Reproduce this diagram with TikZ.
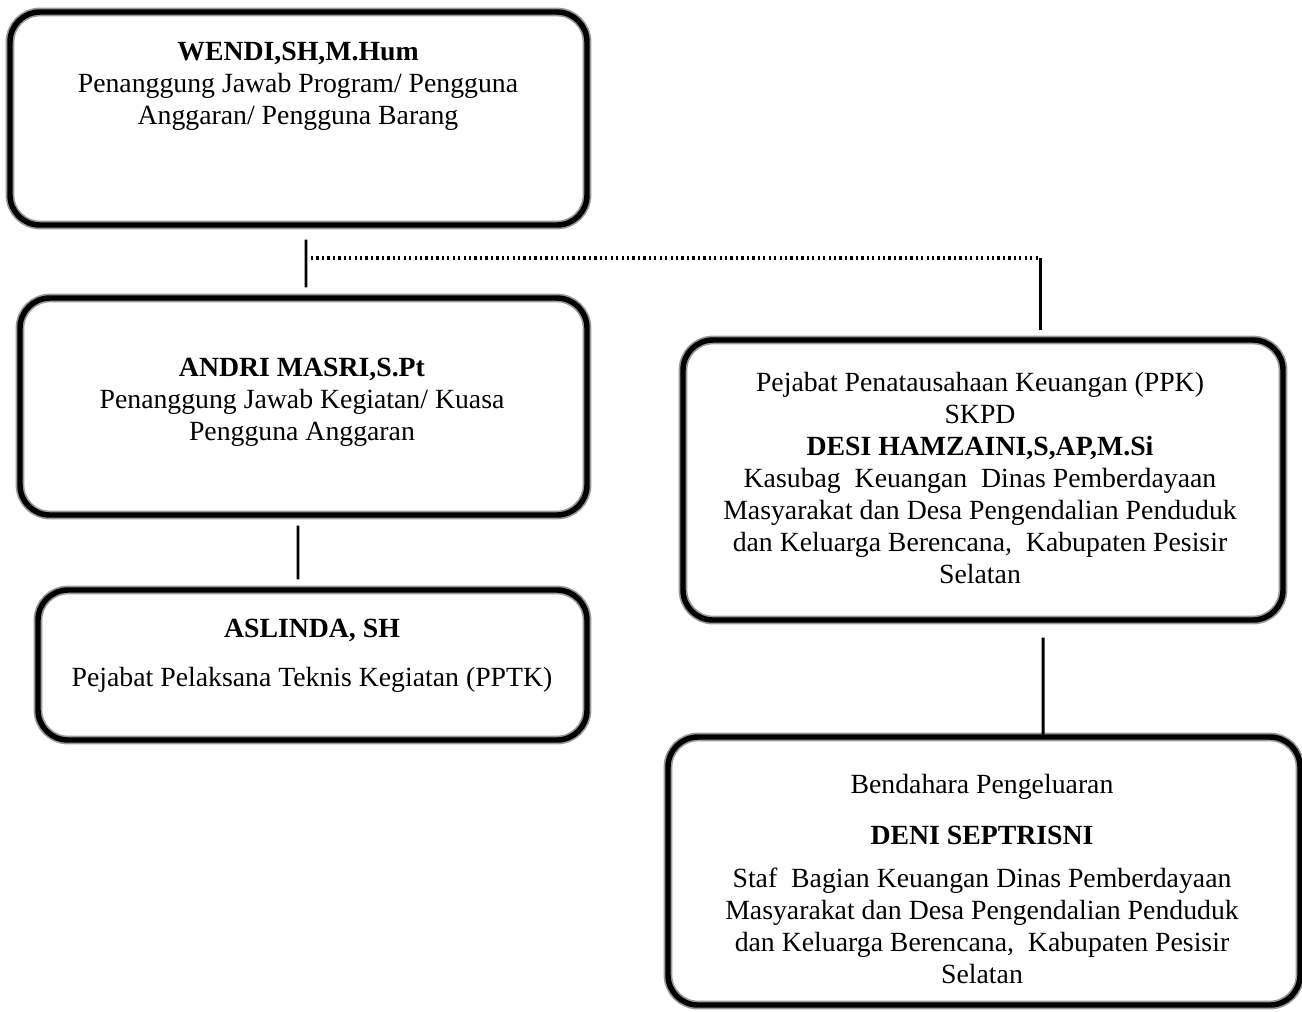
\documentclass[tikz,border=0pt]{standalone}
\usepackage{fontspec}
\setmainfont{Liberation Serif}
\usepackage{tikz}

\begin{document}
\begin{tikzpicture}[
  orgbox/.style={draw=black, line width=3.1pt, rounded corners=0.6cm,
    preaction={draw=black!40, line width=5pt}, inner sep=0pt},
  orgtext/.style={align=center, font=\fontsize{15.8}{18.2}\selectfont, inner sep=0pt},
  link/.style={line width=1.7pt},
  dotlink/.style={line width=2.4pt, dash pattern=on 1.3pt off 1.8pt}]
\useasboundingbox (0,0) rectangle (26.04,-20.22);
\node[orgbox, minimum width=11.54cm, minimum height=4.26cm] (wendi) at (5.97,-2.37) {};
\node[orgbox, minimum width=11.34cm, minimum height=4.34cm] (andri) at (6.07,-8.13) {};
\node[orgbox, minimum width=10.98cm, minimum height=3.0cm] (aslinda) at (6.25,-13.3) {};
\node[orgbox, minimum width=12.0cm, minimum height=5.6cm] (ppk) at (19.66,-9.6) {};
\node[orgbox, minimum width=12.64cm, minimum height=5.36cm] (deni) at (19.68,-17.42) {};
\node[orgtext] (wenditxt) at (5.96,-1.72) {\textbf{WENDI,SH,M.Hum}\\ Penanggung Jawab Program/ Pengguna\\ Anggaran/ Pengguna Barang};
\node[orgtext] (andritxt) at (6.04,-8.04) {\textbf{ANDRI MASRI,S.Pt}\\ Penanggung Jawab Kegiatan/ Kuasa\\ Pengguna Anggaran};
\node[orgtext] (aslindatxt) at (6.24,-13.11) {\textbf{ASLINDA, SH}\\[0.34cm] Pejabat Pelaksana Teknis Kegiatan (PPTK)};
\node[orgtext] (ppktxt) at (19.6,-9.56) {Pejabat Penatausahaan Keuangan (PPK)\\ SKPD\\ \textbf{DESI HAMZAINI,S,AP,M.Si}\\ Kasubag\ \ Keuangan\ \ Dinas Pemberdayaan\\ Masyarakat dan Desa Pengendalian Penduduk\\ dan Keluarga Berencana,\ \ Kabupaten Pesisir\\ Selatan};
\node[orgtext] (denitxt) at (19.64,-17.58) {Bendahara Pengeluaran\\[0.38cm] \textbf{DENI SEPTRISNI}\\[0.22cm] Staf\ \ Bagian Keuangan Dinas Pemberdayaan\\ Masyarakat dan Desa Pengendalian Penduduk\\ dan Keluarga Berencana,\ \ Kabupaten Pesisir\\ Selatan};
% connectors
\coordinate (split) at (6.12,-5.16);
\coordinate (corner) at (20.8,-5.16);
\draw[link, shorten <=0.24cm, shorten >=0.16cm] ([xshift=0.15cm]wendi.south) -- ([xshift=0.05cm]andri.north);
\draw[dotlink] ([xshift=0.1cm]split) -- (corner);
\draw[link, shorten >=0.14cm] (corner) -- (corner |- ppk.north);
\draw[link, shorten <=0.16cm, shorten >=0.16cm] ([xshift=-0.11cm]andri.south) -- ([xshift=-0.29cm]aslinda.north);
\draw[link, shorten <=0.3cm] ([xshift=1.2cm]ppk.south) -- ([xshift=1.18cm]deni.north);
\end{tikzpicture}
\end{document}
